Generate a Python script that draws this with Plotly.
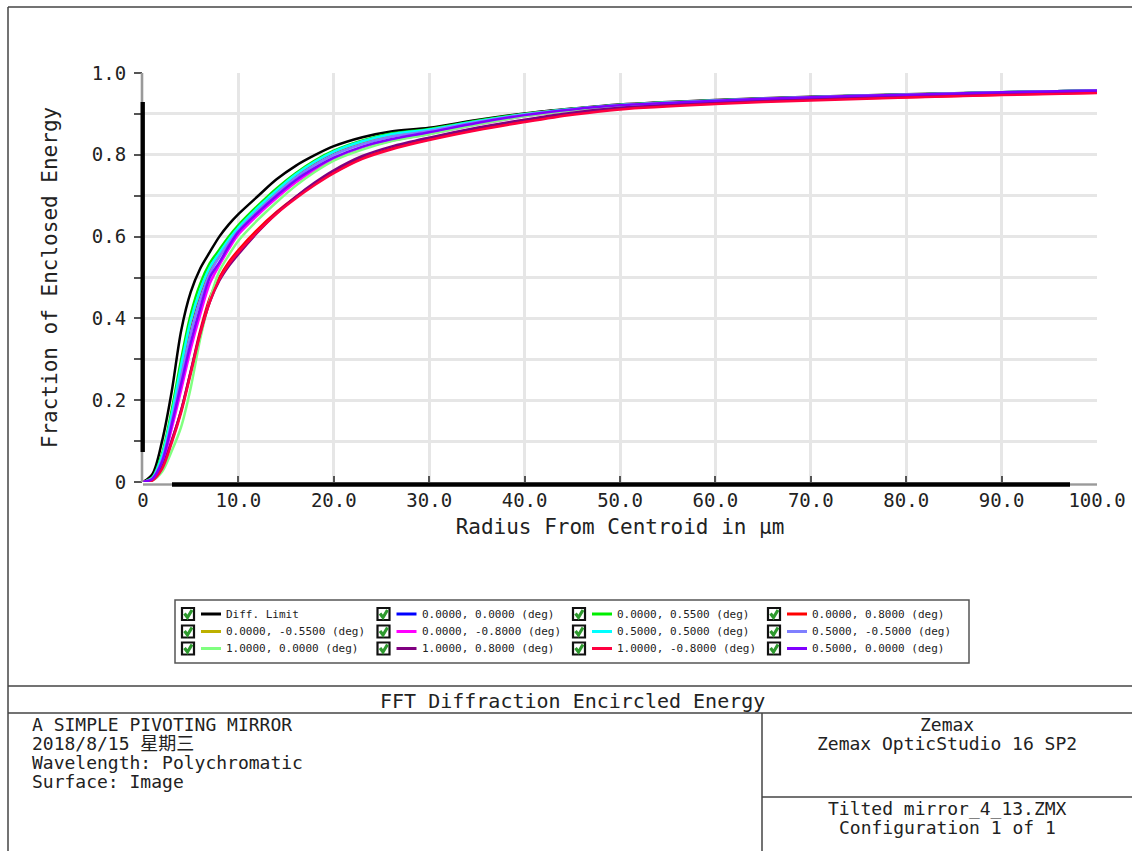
import plotly.graph_objects as go

# ---------------- data ----------------
radius_um = [0, 1, 2, 3, 4, 5, 6, 7, 8, 9, 10, 12, 14, 16, 18, 20, 23, 26, 30, 35, 40, 45, 50, 60, 70, 80, 90, 100]

diff_limit = [0, 0.02, 0.10, 0.22, 0.37, 0.464, 0.522, 0.562, 0.60, 0.63, 0.655, 0.698, 0.74, 0.773, 0.799, 0.821, 0.843, 0.857, 0.866, 0.885, 0.901, 0.913, 0.923, 0.934, 0.942, 0.948, 0.953, 0.957]
f_0_0 = [0, 0.01, 0.06, 0.155, 0.275, 0.385, 0.462, 0.52, 0.556, 0.592, 0.62, 0.668, 0.711, 0.75, 0.781, 0.806, 0.831, 0.848, 0.861, 0.881, 0.899, 0.912, 0.922, 0.933, 0.941, 0.947, 0.953, 0.957]
f_0_055 = [0, 0.012, 0.07, 0.175, 0.30, 0.41, 0.485, 0.535, 0.568, 0.6, 0.628, 0.675, 0.718, 0.755, 0.786, 0.81, 0.835, 0.852, 0.863, 0.883, 0.900, 0.912, 0.922, 0.933, 0.941, 0.947, 0.953, 0.957]
f_0_08 = [0, 0.005, 0.035, 0.10, 0.175, 0.27, 0.37, 0.45, 0.50, 0.538, 0.567, 0.617, 0.66, 0.697, 0.729, 0.757, 0.792, 0.815, 0.838, 0.862, 0.882, 0.90, 0.913, 0.926, 0.935, 0.941, 0.947, 0.952]
f_0_m055 = [0, 0.01, 0.062, 0.16, 0.28, 0.39, 0.466, 0.522, 0.558, 0.592, 0.621, 0.669, 0.712, 0.751, 0.782, 0.807, 0.832, 0.849, 0.861, 0.881, 0.899, 0.912, 0.922, 0.933, 0.941, 0.947, 0.953, 0.957]
f_0_m08 = [0, 0.007, 0.045, 0.13, 0.225, 0.325, 0.41, 0.485, 0.53, 0.57, 0.605, 0.652, 0.694, 0.732, 0.763, 0.788, 0.815, 0.834, 0.851, 0.874, 0.894, 0.909, 0.92, 0.931, 0.94, 0.946, 0.952, 0.956]
f_05_05 = [0, 0.011, 0.065, 0.165, 0.285, 0.395, 0.47, 0.525, 0.56, 0.593, 0.622, 0.67, 0.713, 0.752, 0.783, 0.808, 0.833, 0.85, 0.862, 0.882, 0.899, 0.912, 0.922, 0.933, 0.941, 0.947, 0.953, 0.957]
f_05_m05 = [0, 0.009, 0.055, 0.148, 0.258, 0.362, 0.445, 0.51, 0.55, 0.585, 0.615, 0.662, 0.705, 0.744, 0.775, 0.80, 0.826, 0.844, 0.858, 0.88, 0.898, 0.911, 0.921, 0.932, 0.941, 0.947, 0.953, 0.957]
f_1_0 = [0, 0.004, 0.025, 0.075, 0.135, 0.23, 0.35, 0.445, 0.515, 0.555, 0.59, 0.64, 0.684, 0.724, 0.758, 0.786, 0.813, 0.833, 0.85, 0.874, 0.894, 0.909, 0.92, 0.931, 0.94, 0.946, 0.952, 0.956]
f_1_08 = [0, 0.005, 0.036, 0.10, 0.175, 0.27, 0.365, 0.44, 0.492, 0.528, 0.557, 0.61, 0.657, 0.697, 0.732, 0.762, 0.797, 0.82, 0.842, 0.866, 0.886, 0.903, 0.915, 0.928, 0.937, 0.943, 0.949, 0.954]
f_1_m08 = [0, 0.004, 0.032, 0.095, 0.17, 0.265, 0.362, 0.44, 0.495, 0.533, 0.562, 0.612, 0.656, 0.693, 0.726, 0.755, 0.79, 0.813, 0.836, 0.86, 0.88, 0.898, 0.911, 0.924, 0.933, 0.94, 0.946, 0.951]
f_05_0 = [0, 0.008, 0.05, 0.14, 0.24, 0.34, 0.425, 0.50, 0.537, 0.577, 0.612, 0.658, 0.70, 0.738, 0.768, 0.793, 0.82, 0.838, 0.855, 0.878, 0.897, 0.911, 0.921, 0.932, 0.941, 0.947, 0.953, 0.957]

series_names = [
    "Diff. Limit", "0.0000, 0.0000 (deg)", "0.0000, 0.5500 (deg)", "0.0000, 0.8000 (deg)",
    "0.0000, -0.5500 (deg)", "0.0000, -0.8000 (deg)", "0.5000, 0.5000 (deg)", "0.5000, -0.5000 (deg)",
    "1.0000, 0.0000 (deg)", "1.0000, 0.8000 (deg)", "1.0000, -0.8000 (deg)", "0.5000, 0.0000 (deg)",
]
series_values = [diff_limit, f_0_0, f_0_055, f_0_08, f_0_m055, f_0_m08,
                 f_05_05, f_05_m05, f_1_0, f_1_08, f_1_m08, f_05_0]

x_tickvals = [0, 10, 20, 30, 40, 50, 60, 70, 80, 90, 100]
x_ticktext = ["0", "10.0", "20.0", "30.0", "40.0", "50.0", "60.0", "70.0", "80.0", "90.0", "100.0"]
y_tickvals = [0, 0.1, 0.2, 0.3, 0.4, 0.5, 0.6, 0.7, 0.8, 0.9, 1.0]
y_ticktext = ["0", "", "0.2", "", "0.4", "", "0.6", "", "0.8", "", "1.0"]

chart_title = "FFT Diffraction Encircled Energy"
info_left = ["A SIMPLE PIVOTING MIRROR", "2018/8/15 星期三", "Wavelength: Polychromatic", "Surface: Image"]
info_right_top = ["Zemax", "Zemax OpticStudio 16 SP2"]
info_right_bottom = ["Tilted mirror_4_13.ZMX", "Configuration 1 of 1"]

# ---------------- styles ----------------
series_colors = ["#000000", "#0000ff", "#00ee00", "#ff0000", "#bdb000", "#ff00ff",
                 "#00ffff", "#7f7fff", "#80ff80", "#800080", "#ff0040", "#8000ff"]

W, H = 1132, 851
PL, PR, PT, PB = 143, 1097, 73, 482
MONO = "DejaVu Sans Mono, Noto Sans CJK SC, monospace"
TXT = "#222222"
LINE = "#444444"


def px(x):
    return (x - PL) / (PR - PL)


def py(y):
    return (PB - y) / (PB - PT)


fig = go.Figure()
for name, vals, col in zip(series_names, series_values, series_colors):
    fig.add_trace(go.Scatter(
        x=radius_um, y=vals, name=name, mode="lines",
        line=dict(color=col, width=2.5, shape="spline", smoothing=0.9),
        showlegend=False,
    ))

shapes = []
annotations = []


def hline(x0, x1, y, color=LINE, width=1.5):
    shapes.append(dict(type="line", xref="paper", yref="paper",
                       x0=px(x0), x1=px(x1), y0=py(y), y1=py(y),
                       line=dict(color=color, width=width)))


def vline(x, y0, y1, color=LINE, width=1.5):
    shapes.append(dict(type="line", xref="paper", yref="paper",
                       x0=px(x), x1=px(x), y0=py(y0), y1=py(y1),
                       line=dict(color=color, width=width)))


def text(x, y, s, size, xanchor="left"):
    annotations.append(dict(xref="paper", yref="paper", x=px(x), y=py(y), text=s,
                            showarrow=False, xanchor=xanchor, yanchor="middle",
                            font=dict(family=MONO, size=size, color=TXT)))


# scrollbar-like axis bars
vline(142.0, 73, 102, color="#9a9a9a", width=2.6)
vline(142.7, 102, 452, color="#000000", width=4.4)
vline(142.0, 452, 482, color="#9a9a9a", width=2.6)
hline(143, 172, 484.5, color="#9a9a9a", width=2.4)
hline(172, 1070, 484.5, color="#000000", width=4.4)
hline(1070, 1097, 484.5, color="#9a9a9a", width=2.4)

# legend box
shapes.append(dict(type="rect", xref="paper", yref="paper",
                   x0=px(175), x1=px(969), y0=py(600), y1=py(663),
                   line=dict(color="#555555", width=1.5), fillcolor="white", layer="below"))
col_x = [182, 377.5, 573, 768]
row_y = [614, 631.5, 648.5]
for i, (name, col) in enumerate(zip(series_names, series_colors)):
    cx = col_x[i % 4]
    cy = row_y[i // 4]
    shapes.append(dict(type="rect", xref="paper", yref="paper",
                       x0=px(cx), x1=px(cx + 12), y0=py(cy - 6), y1=py(cy + 6),
                       line=dict(color="#111111", width=2.2), fillcolor="white"))
    path = "M {} {} L {} {} L {} {}".format(px(cx + 2.5), py(cy - 0.5), px(cx + 5.5), py(cy + 3.5),
                                            px(cx + 10), py(cy - 4))
    shapes.append(dict(type="path", xref="paper", yref="paper", path=path,
                       line=dict(color="#2e9a2e", width=3.2)))
    hline(cx + 19, cx + 39, cy, color=col, width=3)
    text(cx + 42, cy, name, 11)

# frame and info table
vline(8, 7, 851)
hline(8, 1132, 7)
hline(8, 1132, 686)
hline(8, 1132, 713)
vline(762, 713, 851)
hline(762, 1132, 797)
text(572, 700.5, chart_title, 20, xanchor="center")
for k, s in enumerate(info_left):
    text(30, 724 + k * 19, s, 18)
for k, s in enumerate(info_right_top):
    text(947, 724 + k * 19, s, 18, xanchor="center")
for k, s in enumerate(info_right_bottom):
    text(947, 808 + k * 19, s, 18, xanchor="center")

fig.update_layout(
    width=W, height=H, autosize=False,
    margin=dict(l=PL, r=W - PR, t=PT, b=H - PB, pad=0),
    paper_bgcolor="white", plot_bgcolor="white",
    shapes=shapes, annotations=annotations,
    font=dict(family=MONO, color=TXT),
    xaxis=dict(
        range=[0, 100], tickvals=x_tickvals, ticktext=x_ticktext, automargin=False,
        showgrid=True, gridcolor="#e6e6e6", gridwidth=2.5, zeroline=False, showline=False,
        ticks="inside", ticklen=6, tickcolor="#555555", tickwidth=1.5,
        tickfont=dict(family=MONO, size=19, color=TXT), ticklabelstandoff=5,
        title=dict(text="Radius From Centroid in μm", font=dict(family=MONO, size=21, color=TXT), standoff=9),
    ),
    yaxis=dict(
        range=[0, 1], tickvals=y_tickvals, ticktext=y_ticktext, automargin=False,
        showgrid=True, gridcolor="#e6e6e6", gridwidth=2.5, zeroline=False, showline=False,
        ticks="outside", ticklen=8, tickcolor="#555555", tickwidth=1.5,
        tickfont=dict(family=MONO, size=19, color=TXT), ticklabelstandoff=4,
        title=dict(text="Fraction of Enclosed Energy", font=dict(family=MONO, size=21, color=TXT), standoff=28),
    ),
)

fig.write_html("out.html", config={"responsive": False})
